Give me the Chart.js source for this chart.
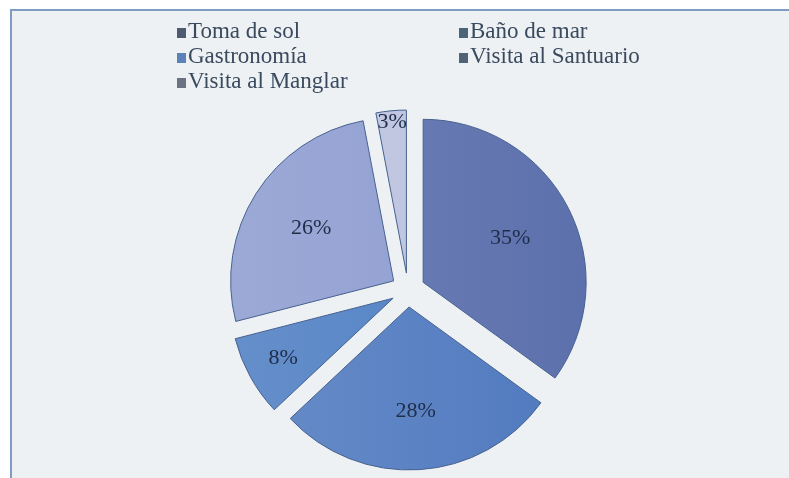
<!DOCTYPE html>
<html>
<head>
<meta charset="utf-8">
<script src="https://cdn.jsdelivr.net/npm/chart.js@4"></script>
<style>
  html, body { margin: 0; padding: 0; background: #fff; }
  #wrap { position: relative; width: 789px; height: 478px; overflow: hidden; }
  #frame {
    position: absolute; left: 10px; top: 9px; right: -2px; bottom: -2px;
    border-top: 2px solid #7f9cc1; border-left: 2px solid #7f9cc1;
    background: #eef1f3;
  }
  #chart { position: absolute; left: 0; top: 0; }
  #legend {
    position: absolute; left: 0; top: 0;
    font-family: "Liberation Serif", "Times New Roman", serif;
    font-size: 23px; line-height: 25px; color: #3a4a5e;
  }
  .item { position: absolute; white-space: nowrap; }
  .box { display: inline-block; width: 9px; height: 10px; margin-right: 2px; }
</style>
</head>
<body>
<div id="wrap">
  <div id="frame"></div>
  <canvas id="chart" width="789" height="478"></canvas>
  <div id="legend"></div>
</div>
<script>
const labels = ["Toma de sol", "Baño de mar", "Gastronomía", "Visita al Santuario", "Visita al Manglar"];
const percents = [35, 28, 8, 26, 3];

const sliceColors = ["#5b6fac", "#4f79bf", "#4d7ec2", "#8d9cd1", "#bbc1de"];
const legendColors = ["#4d5b70", "#4a6479", "#5a82b9", "#4f6276", "#6b7383"];
const labelRadius = [0.6, 0.64, 0.77, 0.6, 0.93]; // how far out each % label sits
const explode = 17;

function mixWhite(hex, t) {
    const n = parseInt(hex.slice(1), 16);
    const r = (n >> 16) & 255, g = (n >> 8) & 255, b = n & 255;
    const m = c => Math.round(c + (255 - c) * t);
    return `rgb(${m(r)},${m(g)},${m(b)})`;
}

// legend in two columns, like the original
const legend = document.getElementById("legend");
labels.forEach((name, i) => {
    const el = document.createElement("div");
    el.className = "item";
    el.style.left = (i % 2 === 0 ? 177 : 459) + "px";
    el.style.top = (18 + Math.floor(i / 2) * 25) + "px";
    el.innerHTML = `<span class="box" style="background:${legendColors[i]}"></span>${name}`;
    legend.appendChild(el);
});

const explodePlugin = {
    id: "explode",
    beforeDatasetDraw(chart, args) {
        const ctx = chart.ctx;
        args.meta.data.forEach(arc => {
            const mid = (arc.startAngle + arc.endAngle) / 2;
            ctx.save();
            ctx.translate(Math.cos(mid) * explode, Math.sin(mid) * explode);
            arc.draw(ctx);
            ctx.restore();
        });
        return false;
    },
    afterDatasetsDraw(chart) {
        const ctx = chart.ctx;
        const meta = chart.getDatasetMeta(0);
        ctx.save();
        ctx.font = "22px 'Liberation Serif', serif";
        ctx.fillStyle = "#1f2d47";
        ctx.textAlign = "center";
        ctx.textBaseline = "middle";
        meta.data.forEach((arc, i) => {
            const mid = (arc.startAngle + arc.endAngle) / 2;
            const d = explode + arc.outerRadius * labelRadius[i];
            ctx.fillText(percents[i] + "%", arc.x + Math.cos(mid) * d, arc.y + Math.sin(mid) * d);
        });
        ctx.restore();
    }
};

new Chart(document.getElementById("chart"), {
    type: "pie",
    data: {
        labels: labels,
        datasets: [{
            data: percents,
            backgroundColor: c => {
                const area = c.chart.chartArea;
                const base = sliceColors[c.dataIndex];
                if (!area) return base;
                const g = c.chart.ctx.createLinearGradient(230, 0, 590, 0);
                g.addColorStop(0, mixWhite(base, 0.14));
                g.addColorStop(1, base);
                return g;
            },
            borderColor: "#46618f",
            borderWidth: 1,
            hoverOffset: 0
        }]
    },
    options: {
        responsive: false,
        animation: false,
        radius: 163,
        layout: { padding: { left: 27, right: 0, top: 102, bottom: 0 } },
        plugins: {
            legend: { display: false },
            tooltip: { enabled: false }
        }
    },
    plugins: [explodePlugin]
});
</script>
</body>
</html>
